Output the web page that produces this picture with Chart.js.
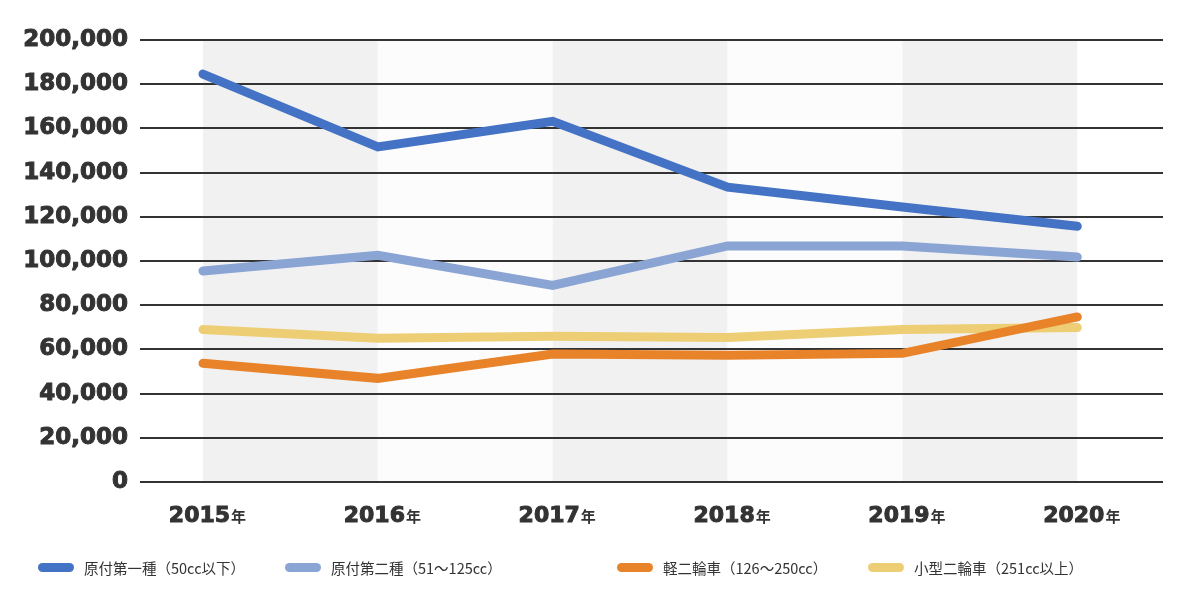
<!DOCTYPE html>
<html lang="ja">
<head>
<meta charset="utf-8">
<script src="https://cdn.jsdelivr.net/npm/chart.js@4.4.1/dist/chart.umd.min.js"></script>
<style>
  html, body { margin:0; padding:0; background:#fff; }
  #wrap { position:relative; width:1200px; height:600px; }
  #legend { position:absolute; left:0; top:557px; width:1200px; height:20px;
            font-family:"Noto Sans CJK JP","Noto Sans",sans-serif; font-size:14.5px; color:#333;
            text-spacing-trim:space-all; }
  .lg-item { position:absolute; top:0; height:20px; display:flex; align-items:center; white-space:nowrap; }
  .lg-sw { width:36px; height:9px; border-radius:5px; margin-right:10px; }
</style>
</head>
<body>
<div id="wrap">
  <canvas id="chart"></canvas>
  <div id="legend"></div>
</div>
<script>
// Data
const years      = [2015, 2016, 2017, 2018, 2019, 2020];
const names      = ['原付第一種（50cc以下）','原付第二種（51～125cc）','軽二輪車（126～250cc）','小型二輪車（251cc以上）'];
const gentsuki1  = [184600, 151600, 163200, 133400, 124400, 115700];
const gentsuki2  = [ 95500, 102600,  89000, 106800, 106800, 101800];
const keiNirin   = [ 53700,  46900,  57900,  57400,  58200,  74700];
const kogataNirin= [ 69000,  65000,  66000,  65400,  69000,  69900];
const yMin = 0, yMax = 200000, yStep = 20000;
const yearSuffix = '年';

const colors = ['#4472C4','#8AA4D4','#E8832A','#EDCE74'];
const series = [gentsuki1, gentsuki2, keiNirin, kogataNirin];

// Legend x offsets (layout only)
const legendX = [38, 285, 617, 868];

const toPoints = vals => years.map((y,i) => ({x:y, y:vals[i]}));

// Alternating background bands between year columns
const bandsPlugin = {
  id:'bands',
  beforeDraw(chart) {
    const {ctx, chartArea, scales:{x}} = chart;
    ctx.save();
    for (let i = 0; i < years.length - 1; i++) {
      const x0 = x.getPixelForValue(years[i]);
      const x1 = x.getPixelForValue(years[i+1]);
      ctx.fillStyle = i % 2 === 0 ? '#f1f1f1' : '#fcfcfc';
      ctx.fillRect(x0, chartArea.top, x1 - x0, chartArea.bottom - chartArea.top);
    }
    ctx.restore();
  }
};

// Year labels with smaller 年
const yearLabels = {
  id:'yearLabels',
  afterDraw(chart) {
    const {ctx, chartArea, scales:{x}} = chart;
    ctx.save();
    ctx.fillStyle = '#333';
    ctx.strokeStyle = '#333';
    ctx.lineWidth = 1;
    ctx.textBaseline = 'alphabetic';
    ctx.textAlign = 'left';
    const big = 'bold 22px "DejaVu Sans", sans-serif';
    const small = 'bold 15px "Noto Sans CJK JP", sans-serif';
    const base = chartArea.bottom + 40;
    years.forEach(yr => {
      const px = x.getPixelForValue(yr);
      ctx.font = big;   const w1 = ctx.measureText(String(yr)).width;
      ctx.font = small; const w2 = ctx.measureText(yearSuffix).width;
      const start = px - (w1 + w2) / 2 + 4;
      ctx.font = big;
      ctx.fillText(String(yr), start, base);
      ctx.strokeText(String(yr), start, base);
      ctx.font = small;
      ctx.fillText(yearSuffix, start + w1 + 1, base);
    });
    ctx.restore();
  }
};

new Chart(document.getElementById('chart'), {
  type:'line',
  data:{
    datasets: series.map((vals,i) => ({
      label:names[i], data:toPoints(vals),
      borderColor:colors[i], backgroundColor:colors[i],
      borderWidth:9, borderCapStyle:'round', borderJoinStyle:'miter',
      tension:0, pointRadius:0, pointHoverRadius:0, fill:false
    }))
  },
  options:{
    responsive:true, maintainAspectRatio:false, animation:false,
    layout:{padding:{top:40, right:37, bottom:118, left:0}},
    plugins:{legend:{display:false}, tooltip:{enabled:false}},
    scales:{
      x:{type:'linear', min:2014.64, max:2020.49, display:false},
      y:{
        min:yMin, max:yMax,
        afterFit(scale){ scale.width = 140; },
        border:{display:false},
        grid:{color:'#333', lineWidth:2, drawTicks:false},
        ticks:{
          stepSize:yStep, padding:12, color:'#333',
          textStrokeColor:'#333', textStrokeWidth:1,
          font:{family:'"DejaVu Sans", sans-serif', weight:'bold', size:23},
          callback:v => Number(v).toLocaleString('en-US')
        }
      }
    }
  },
  plugins:[bandsPlugin, yearLabels]
});

// HTML legend
const lg = document.getElementById('legend');
names.forEach((n,i) => {
  const item = document.createElement('div');
  item.className = 'lg-item';
  item.style.left = legendX[i] + 'px';
  item.innerHTML = `<span class="lg-sw" style="background:${colors[i]}"></span><span>${n}</span>`;
  lg.appendChild(item);
});
</script>
</body>
</html>
